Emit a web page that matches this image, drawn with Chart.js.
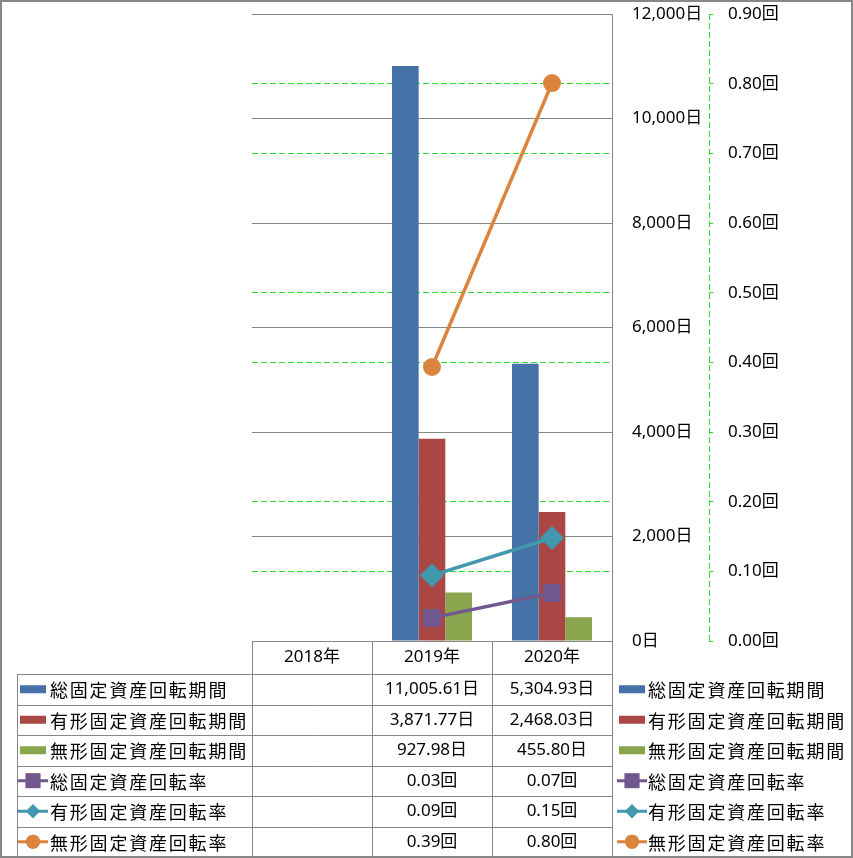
<!DOCTYPE html>
<html>
<head>
<meta charset="UTF-8">
<title>固定資産回転期間・回転率</title>
<script src="https://cdn.jsdelivr.net/npm/chart.js@4.4.0/dist/chart.umd.min.js"></script>
<style>
  body { margin: 0; background: #fff; }
  canvas { display: block; }
</style>
</head>
<body>
<canvas id="chart" width="853" height="858"></canvas>
<script>
// data
const years = ['2018年', '2019年', '2020年'];
const periodNames = ['総固定資産回転期間', '有形固定資産回転期間', '無形固定資産回転期間'];
const rateNames = ['総固定資産回転率', '有形固定資産回転率', '無形固定資産回転率'];
const totalPeriod = [null, 11005.61, 5304.93];
const tangiblePeriod = [null, 3871.77, 2468.03];
const intangiblePeriod = [null, 927.98, 455.80];
const totalRate = [null, 0.0332, 0.0688];
const tangibleRate = [null, 0.0943, 0.1479];
const intangibleRate = [null, 0.3933, 0.8008];

const FONT = '"Noto Sans", "Noto Sans CJK JP", sans-serif';
const CJK = '"Noto Sans CJK JP", sans-serif';
const GRID = '#878787';
const GREEN = '#2ddc2d';

function fmtDays(v) {
  return v.toLocaleString('en-US', { minimumFractionDigits: 2, maximumFractionDigits: 2 }) + '日';
}
function fmtTimes(v) {
  return v.toFixed(2) + '回';
}

function drawKey(ctx, ds, x0, cy) {
  if (ds.type === 'bar') {
    ctx.fillStyle = ds.backgroundColor;
    ctx.fillRect(x0 + 2, cy - 4, 26, 8);
    return;
  }
  ctx.strokeStyle = ds.borderColor;
  ctx.lineWidth = 3;
  ctx.beginPath();
  ctx.moveTo(x0, cy);
  ctx.lineTo(x0 + 30, cy);
  ctx.stroke();
  ctx.fillStyle = ds.backgroundColor;
  const r = ds.pointStyle === 'rect' ? 10.4 : 7;
  Chart.helpers.drawPoint(ctx, { pointStyle: ds.pointStyle, radius: r, rotation: 0, borderWidth: 0 }, x0 + 15, cy);
  ctx.fill();
}

// data table + right-hand legend under the plot, like Excel's data table
const tablePlugin = {
  id: 'dataTable',
  afterDraw(chart) {
    const ctx = chart.ctx;
    const area = chart.chartArea;
    const xs = chart.scales.x;
    const colW = (area.right - area.left) / years.length;
    const top = area.bottom;
    const headH = 33;
    const rowH = 30.5;
    const left = 17;
    const sets = chart.data.datasets;
    const bottom = top + headH + rowH * sets.length;
    const px = v => Math.round(v) + 0.5;

    ctx.save();
    ctx.strokeStyle = GRID;
    ctx.lineWidth = 1;
    ctx.beginPath();
    ctx.moveTo(area.left, px(top));
    ctx.lineTo(area.right, px(top));
    for (let i = 0; i <= sets.length; i++) {
      const y = px(top + headH + rowH * i);
      ctx.moveTo(left, y);
      ctx.lineTo(area.right, y);
    }
    ctx.moveTo(px(left), px(top + headH));
    ctx.lineTo(px(left), bottom);
    for (let i = 0; i <= years.length; i++) {
      const x = px(area.left + colW * i);
      ctx.moveTo(x, px(top));
      ctx.lineTo(x, bottom);
    }
    ctx.stroke();

    ctx.fillStyle = '#000';
    ctx.textBaseline = 'middle';
    ctx.textAlign = 'center';
    ctx.font = '17px ' + FONT;
    years.forEach((y, i) => ctx.fillText(y, xs.getPixelForValue(i), top + headH / 2));

    sets.forEach((ds, r) => {
      const cy = top + headH + rowH * r + rowH / 2;
      ctx.textAlign = 'center';
      ctx.font = '17px ' + FONT;
      ctx.fillStyle = '#000';
      ds.data.forEach((v, i) => {
        if (v === null) return;
        const s = ds.type === 'bar' ? fmtDays(v) : fmtTimes(v);
        ctx.fillText(s, xs.getPixelForValue(i), cy);
      });
      // keys on both sides
      [[left + 1, left + 33], [area.right + 5, area.right + 36]].forEach(([kx, tx]) => {
        drawKey(ctx, ds, kx, cy);
        ctx.fillStyle = '#000';
        ctx.textAlign = 'left';
        ctx.font = '18px ' + CJK;
        ctx.letterSpacing = '1.8px';
        ctx.fillText(ds.label, tx, cy + 1);
        ctx.letterSpacing = '0px';
      });
    });

    // outer frame
    ctx.strokeStyle = GRID;
    ctx.strokeRect(0.5, 0.5, chart.width - 1, chart.height - 1);
    ctx.restore();
  }
};

const axisLinePlugin = {
  id: 'dashedAxis',
  afterDraw(chart) {
    const s = chart.scales.y1;
    const ctx = chart.ctx;
    ctx.save();
    ctx.strokeStyle = GREEN;
    ctx.lineWidth = 1;
    ctx.setLineDash([6, 3]);
    ctx.beginPath();
    ctx.moveTo(Math.round(s.left) + 0.5, s.top);
    ctx.lineTo(Math.round(s.left) + 0.5, s.bottom);
    ctx.stroke();
    ctx.restore();
  }
};

function lineSet(label, data, color, style, radius) {
  return {
    type: 'line', label, data, yAxisID: 'y1', order: 0,
    borderColor: color, backgroundColor: color, borderWidth: 3.5,
    pointStyle: style, pointRadius: radius, pointHoverRadius: radius,
    pointBorderWidth: 0, spanGaps: false
  };
}

function fitRight(width) {
  return s => {
    s.width = width;
    s.paddingTop = 0;
    s.paddingBottom = 0;
  };
}

new Chart(document.getElementById('chart'), {
  data: {
    labels: years,
    datasets: [
      { type: 'bar', label: periodNames[0], data: totalPeriod, backgroundColor: '#4572A7', yAxisID: 'y', order: 1 },
      { type: 'bar', label: periodNames[1], data: tangiblePeriod, backgroundColor: '#AA4643', yAxisID: 'y', order: 1 },
      { type: 'bar', label: periodNames[2], data: intangiblePeriod, backgroundColor: '#89A54E', yAxisID: 'y', order: 1 },
      lineSet(rateNames[0], totalRate, '#71588F', 'rect', 12.7),
      lineSet(rateNames[1], tangibleRate, '#4198AF', 'rectRot', 12),
      lineSet(rateNames[2], intangibleRate, '#DB843D', 'circle', 9)
    ]
  },
  options: {
    responsive: false,
    devicePixelRatio: 1,
    animation: false,
    categoryPercentage: 2 / 3,
    barPercentage: 1,
    layout: { padding: { left: 252, top: 14, right: 44, bottom: 217 } },
    plugins: { legend: { display: false }, tooltip: { enabled: false } },
    scales: {
      x: { display: false },
      y: {
        position: 'right', min: 0, max: 12000,
        afterFit: fitRight(97),
        grid: { color: GRID, drawTicks: false, z: -1 },
        border: { color: GRID },
        ticks: {
          stepSize: 2000, padding: 20, color: '#000',
          font: { family: FONT, size: 17 },
          callback: v => v.toLocaleString('en-US') + '日'
        }
      },
      y1: {
        position: 'right', min: 0, max: 0.9,
        afterFit: fitRight(100),
        grid: { color: GREEN, tickColor: GREEN, tickLength: 4, z: -2 },
        border: { display: false, dash: [6, 3] },
        ticks: {
          stepSize: 0.1, padding: 15, color: '#000',
          font: { family: FONT, size: 17 },
          callback: v => v.toFixed(2) + '回'
        }
      }
    }
  },
  plugins: [tablePlugin, axisLinePlugin]
});
</script>
</body>
</html>
